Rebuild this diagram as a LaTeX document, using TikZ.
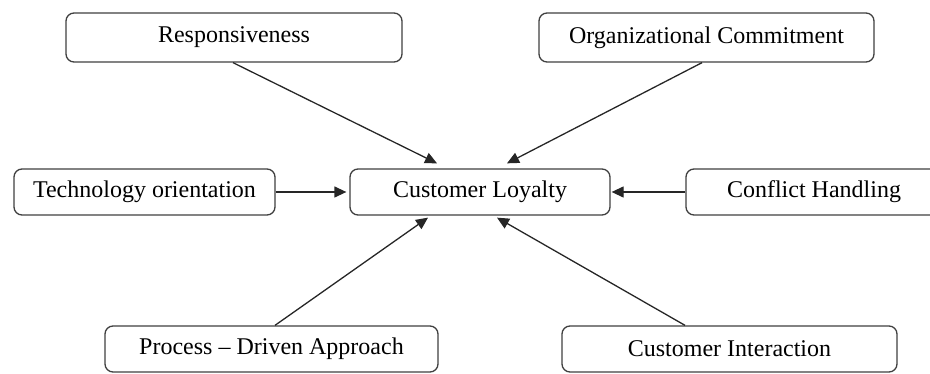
\documentclass[tikz,border=0pt]{standalone}
\usepackage{fontspec}
\setmainfont{Liberation Serif}
\usetikzlibrary{arrows.meta}
\begin{document}
\begin{tikzpicture}[x=1pt,y=-1pt,
  box/.style={draw=black!75, line width=1.3pt, rounded corners=8pt, fill=white,
    inner sep=0pt, font=\fontsize{24}{28}\selectfont},
  arr/.style={draw=black!85, line width=1.3pt, -{Triangle[length=12pt,width=11pt]}}]
\useasboundingbox (0,0) rectangle (930,374);
\node[box, minimum width=336pt, minimum height=49pt] (resp) at (234,37.5) {Responsiveness};
\node[box, minimum width=335pt, minimum height=49pt] (org) at (706.5,37.5) {Organizational Commitment};
\node[box, minimum width=261pt, minimum height=46pt] (tech) at (144.5,192) {Technology orientation};
\node[box, minimum width=260pt, minimum height=46pt] (cl) at (480,192) {Customer Loyalty};
\node[box, minimum width=256pt, minimum height=46pt] (conf) at (814,192) {Conflict Handling};
\node[box, minimum width=333pt, minimum height=46pt] (proc) at (271.5,349) {Process -- Driven Approach};
\node[box, minimum width=335pt, minimum height=46pt] (ci) at (729.5,349) {Customer Interaction};
\draw[arr] ([xshift=-1pt]resp.south) -- ([xshift=-43pt,yshift=5pt]cl.north);
\draw[arr] ([xshift=-4.5pt]org.south) -- ([xshift=27pt,yshift=5pt]cl.north);
\draw[arr] (tech.east) -- ([xshift=-3pt]cl.west);
\draw[arr] (conf.west) -- ([xshift=1pt]cl.east);
\draw[arr] ([xshift=3.5pt]proc.north) -- ([xshift=-52pt,yshift=-2pt]cl.south);
\draw[arr] ([xshift=-44.5pt]ci.north) -- ([xshift=17pt,yshift=-2pt]cl.south);
\end{tikzpicture}
\end{document}
